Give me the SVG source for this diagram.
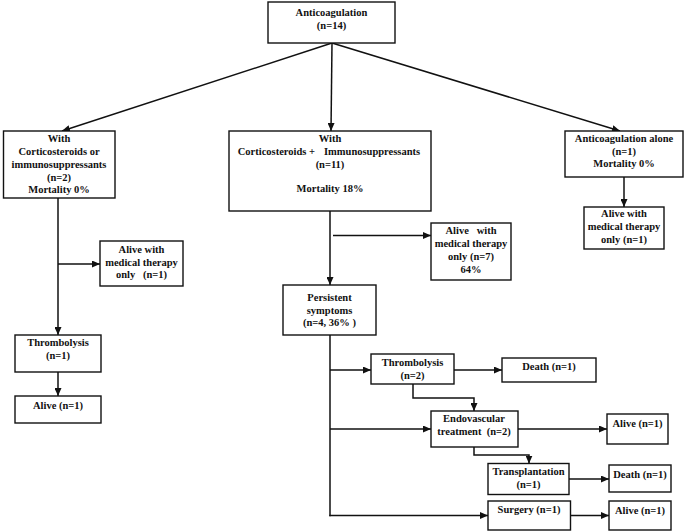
<svg xmlns="http://www.w3.org/2000/svg" width="685" height="532" viewBox="0 0 685 532">
<defs>
<style>
.box{fill:#fff;stroke:#111;stroke-width:1.4}
.t{font-family:"Liberation Serif","Times New Roman",serif;font-size:10.5px;font-weight:bold;fill:#111;text-anchor:middle}
.c{fill:none;stroke:#111;stroke-width:1.5}
</style>
<marker id="ah" markerUnits="userSpaceOnUse" markerWidth="8" markerHeight="7" refX="8" refY="3.5" orient="auto">
<path d="M0,0 L8,3.5 L0,7 z" fill="#111"/>
</marker>
</defs>
<rect width="685" height="532" fill="#fff"/>
<g id="connectors">
<line class="c" x1="332" y1="43" x2="62" y2="131" marker-end="url(#ah)"/>
<line class="c" x1="332" y1="43" x2="331" y2="131" marker-end="url(#ah)"/>
<line class="c" x1="332" y1="43" x2="620" y2="131" marker-end="url(#ah)"/>
<line class="c" x1="624" y1="177" x2="624" y2="207" marker-end="url(#ah)"/>
<line class="c" x1="58" y1="198" x2="58" y2="335" marker-end="url(#ah)"/>
<line class="c" x1="58" y1="264" x2="100" y2="264" marker-end="url(#ah)"/>
<line class="c" x1="58" y1="372" x2="58" y2="396" marker-end="url(#ah)"/>
<line class="c" x1="330" y1="211" x2="330" y2="285" marker-end="url(#ah)"/>
<line class="c" x1="333" y1="235.5" x2="431" y2="235.5" marker-end="url(#ah)"/>
<line class="c" x1="330" y1="335" x2="330" y2="516.2"/>
<line class="c" x1="330" y1="370" x2="371" y2="370" marker-end="url(#ah)"/>
<line class="c" x1="454" y1="370" x2="502" y2="370" marker-end="url(#ah)"/>
<polyline class="c" points="413,384 413,398 474,398 474,411" marker-end="url(#ah)"/>
<line class="c" x1="330" y1="429" x2="431" y2="429" marker-end="url(#ah)"/>
<line class="c" x1="518" y1="429" x2="607" y2="429" marker-end="url(#ah)"/>
<polyline class="c" points="474,447 474,455 529,455 529,463.5" marker-end="url(#ah)"/>
<line class="c" x1="569" y1="479" x2="609" y2="479" marker-end="url(#ah)"/>
<line class="c" x1="329.3" y1="515.5" x2="488" y2="515.5" marker-end="url(#ah)"/>
<line class="c" x1="570.5" y1="515.5" x2="609" y2="515.5" marker-end="url(#ah)"/>
</g>
<g id="anticoagulation">
<rect class="box" x="268" y="2" width="127" height="41"/>
<text class="t" x="331.5" y="16">Anticoagulation</text>
<text class="t" x="331.5" y="28.5">(n=14)</text>
</g>
<g id="with-cort-or-immuno">
<rect class="box" x="3.5" y="131" width="111.5" height="67"/>
<text class="t" x="59" y="142">With</text>
<text class="t" x="59" y="155">Corticosteroids or</text>
<text class="t" x="59" y="168">immunosuppressants</text>
<text class="t" x="59" y="180.5">(n=2)</text>
<text class="t" x="59" y="193">Mortality 0%</text>
</g>
<g id="with-cort-and-immuno">
<rect class="box" x="229" y="131" width="202" height="80"/>
<text class="t" x="330" y="142">With</text>
<text class="t" y="155"><tspan x="315" style="text-anchor:end">Corticosteroids +</tspan><tspan x="324" style="text-anchor:start">Immunosuppressants</tspan></text>
<text class="t" x="330" y="168">(n=11)</text>
<text class="t" x="330" y="191.5">Mortality 18%</text>
</g>
<g id="anticoagulation-alone">
<rect class="box" x="565" y="131" width="118" height="46"/>
<text class="t" x="624" y="142">Anticoagulation alone</text>
<text class="t" x="624" y="154.5">(n=1)</text>
<text class="t" x="624" y="167">Mortality 0%</text>
</g>
<g id="alive-medical-right">
<rect class="box" x="584" y="207" width="80" height="42"/>
<text class="t" x="624" y="217">Alive with</text>
<text class="t" x="624" y="230">medical therapy</text>
<text class="t" x="624" y="243">only (n=1)</text>
</g>
<g id="alive-medical-left">
<rect class="box" x="100" y="241" width="83" height="45"/>
<text class="t" x="141.5" y="253">Alive with</text>
<text class="t" x="141.5" y="265.5">medical therapy</text>
<text class="t" x="141.5" y="278" xml:space="preserve">only   (n=1)</text>
</g>
<g id="thrombolysis-left">
<rect class="box" x="15" y="335" width="86" height="37"/>
<text class="t" x="58" y="346">Thrombolysis</text>
<text class="t" x="58" y="359">(n=1)</text>
</g>
<g id="alive-left">
<rect class="box" x="15" y="396" width="86" height="27"/>
<text class="t" x="58" y="409">Alive (n=1)</text>
</g>
<g id="alive-medical-mid">
<rect class="box" x="431" y="223" width="80" height="57"/>
<text class="t" x="471" y="234" xml:space="preserve">Alive   with</text>
<text class="t" x="471" y="247">medical therapy</text>
<text class="t" x="471" y="260">only (n=7)</text>
<text class="t" x="471" y="272.5">64%</text>
</g>
<g id="persistent">
<rect class="box" x="283" y="285" width="93" height="50"/>
<text class="t" x="329.5" y="301">Persistent</text>
<text class="t" x="329.5" y="313.5">symptoms</text>
<text class="t" x="329.5" y="326" xml:space="preserve">(n=4, 36% )</text>
</g>
<g id="thrombolysis-mid">
<rect class="box" x="371" y="354" width="83" height="30"/>
<text class="t" x="412.5" y="366">Thrombolysis</text>
<text class="t" x="412.5" y="378.5">(n=2)</text>
</g>
<g id="death-1">
<rect class="box" x="502" y="358" width="94" height="24"/>
<text class="t" x="549" y="369.5">Death (n=1)</text>
</g>
<g id="endovascular">
<rect class="box" x="431" y="411" width="87" height="36"/>
<text class="t" x="474" y="422">Endovascular</text>
<text class="t" x="474" y="435" xml:space="preserve">treatment  (n=2)</text>
</g>
<g id="alive-endo">
<rect class="box" x="607" y="414" width="61" height="30"/>
<text class="t" x="637.5" y="427">Alive (n=1)</text>
</g>
<g id="transplantation">
<rect class="box" x="488" y="463.5" width="81" height="31"/>
<text class="t" x="528.5" y="475">Transplantation</text>
<text class="t" x="528.5" y="488">(n=1)</text>
</g>
<g id="death-2">
<rect class="box" x="609" y="465" width="62" height="27"/>
<text class="t" x="640" y="477.5">Death (n=1)</text>
</g>
<g id="surgery">
<rect class="box" x="488" y="501" width="82.5" height="29"/>
<text class="t" x="529" y="513">Surgery (n=1)</text>
</g>
<g id="alive-surgery">
<rect class="box" x="609" y="501" width="62" height="29"/>
<text class="t" x="640" y="514">Alive (n=1)</text>
</g>
</svg>
